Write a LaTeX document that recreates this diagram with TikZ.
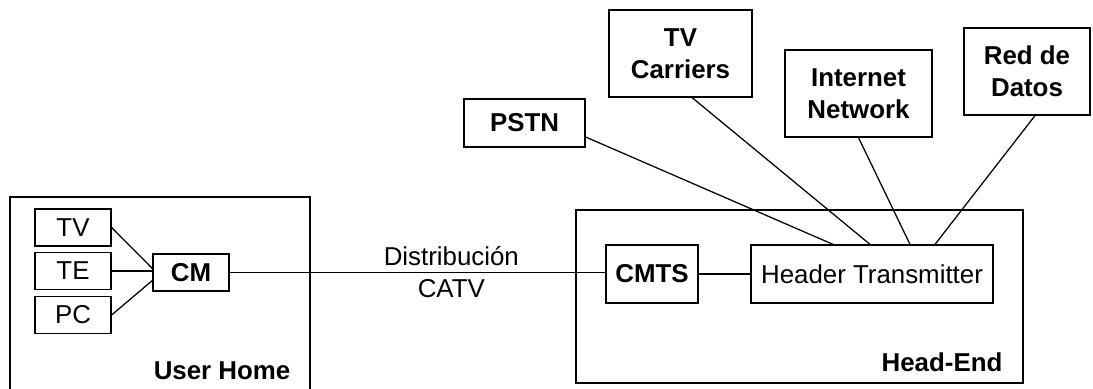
\documentclass[tikz,border=0pt]{standalone}
\usepackage{fontspec}
\setmainfont{Liberation Sans}
\begin{document}
\begin{tikzpicture}[line width=0.9pt, line join=miter,
  box/.style={draw, inner sep=0pt, align=center, font=\fontsize{18.4}{23}\selectfont},
  bbox/.style={box, font=\fontsize{18.4}{23}\selectfont\bfseries},
  lbl/.style={inner sep=0pt, font=\fontsize{18.4}{23}\selectfont\bfseries},
  txt/.style={inner sep=0pt, font=\fontsize{18.4}{23}\selectfont}]
\useasboundingbox (0,0) rectangle (27.325,9.725);
% areas
\draw (0.25,0) |- (7.75,4.8) -- (7.75,0);
\draw (14.4,0.15) rectangle (25.575,4.475);
\node[lbl, anchor=east] (home) at (7.275,0.45) {User Home};
\node[lbl, anchor=east] (headend) at (25.075,0.675) {Head-End};
% user home
\node[box, minimum width=1.9cm, minimum height=0.925cm] (tv) at (1.825,4.0375) {TV};
\node[box, minimum width=1.9cm, minimum height=0.925cm] (te) at (1.825,2.95) {TE};
\node[box, minimum width=1.9cm, minimum height=0.925cm] (pc) at (1.825,1.85) {PC};
\node[bbox, minimum width=1.9cm, minimum height=0.925cm] (cm) at (4.775,2.9125) {CM};
% head-end
\node[bbox, minimum width=2.3cm, minimum height=1.45cm] (cmts) at (16.3,2.875) {CMTS};
\node[box, minimum width=6.05cm, minimum height=1.45cm] (ht) at (21.8,2.875) {Header Transmitter};
% external networks
\node[bbox, minimum width=3.025cm, minimum height=1.2cm] (pstn) at (13.1125,6.65) {PSTN};
\node[bbox, minimum width=3.575cm, minimum height=2.175cm] (tvc) at (17.0125,8.3875) {TV\\Carriers};
\node[bbox, minimum width=3.675cm, minimum height=2.175cm] (inet) at (21.4625,7.3875) {Internet\\Network};
\node[bbox, minimum width=3.15cm, minimum height=2.175cm] (red) at (25.675,7.9375) {Red de\\Datos};
% connections
\draw (tv.east) -- ([yshift=0.1cm]cm.west);
\draw (te.east) -- (te.east -| cm.west);
\draw (pc.east) -- ([yshift=-0.2cm]cm.west);
\draw (cm.east) -- (cm.east -| cmts.west)
  node[txt, pos=0.59, above=0.15cm] (dist) {Distribución}
  node[txt, pos=0.59, below=0.15cm] (catv) {CATV};
\draw (cmts.east) -- (ht.west);
\draw ([yshift=-0.35cm]pstn.east) -- ([xshift=-0.975cm]ht.north);
\draw ([xshift=0.29cm]tvc.south) -- ([xshift=-0.05cm]ht.north);
\draw (inet.south) -- ([xshift=0.95cm]ht.north);
\draw ([xshift=0.2cm]red.south) -- ([xshift=1.575cm]ht.north);
\end{tikzpicture}
\end{document}
